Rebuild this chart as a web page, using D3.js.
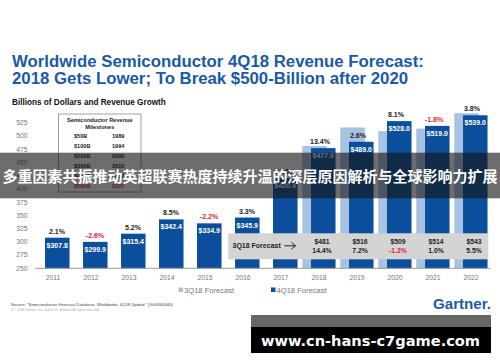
<!DOCTYPE html>
<html>
<head>
<meta charset="utf-8">
<script src="https://cdn.jsdelivr.net/npm/d3@7"></script>
<style>
  body { margin: 0; background: #fff; }
  svg { display: block; font-family: "Liberation Sans", Arial, sans-serif; }
</style>
</head>
<body>
<div id="chart"></div>
<script>
// chart data
const years = [2011, 2012, 2013, 2014, 2015, 2016, 2017, 2018, 2019, 2020, 2021, 2022];
const rev4Q18 = [307.8, 299.9, 315.4, 342.4, 334.9, 345.9, 420.4, 477.0, 489.0, 528.0, 519.0, 539.0];
const growth4Q18 = ["2.1%", "-2.6%", "5.2%", "8.5%", "-2.2%", "3.3%", "21.6%", "13.4%", "2.6%", "8.1%", "-1.8%", "3.8%"];
const years3Q18 = [2018, 2019, 2020, 2021, 2022];
const rev3Q18 = [481, 516, 509, 514, 543];
const growth3Q18 = ["14.4%", "7.2%", "-1.2%", "1.0%", "5.5%"];
const yTicks = [250, 275, 300, 325, 350, 375, 400, 425, 450, 475, 500, 525];
const milestones = [["$50B", "1989"], ["$100B", "1994"], ["$200B", "2000"], ["$300B", "2010"], ["$400B", "2017"], ["$500B", "2021"]];

const width = 500, height = 362;
const blue = "#0b4f9c", light = "#a8c3e2", red = "#e3222c";

const svg = d3.select("#chart").append("svg")
    .attr("width", width).attr("height", height);

const x = d3.scaleBand().domain(years).range([34, 490]);
const y = d3.scaleLinear().domain([250, 525]).range([268.3, 122.7]);
const bw = x.bandwidth();

// title
svg.append("text").attr("x", 12).attr("y", 66.5)
    .attr("font-size", 16.8).attr("font-weight", "bold").attr("fill", "#1b59a6")
    .text("Worldwide Semiconductor 4Q18 Revenue Forecast:");
svg.append("text").attr("x", 12).attr("y", 83.5)
    .attr("font-size", 16.8).attr("font-weight", "bold").attr("fill", "#1b59a6")
    .text("2018 Gets Lower; To Break $500-Billion after 2020");
svg.append("text").attr("x", 12).attr("y", 104.5)
    .attr("font-size", 8.2).attr("font-weight", "bold").attr("fill", "#111")
    .text("Billions of Dollars and Revenue Growth");

// y axis labels
svg.append("g").selectAll("text").data(yTicks).join("text")
    .attr("x", 27.5).attr("y", d => y(d) + 2.4)
    .attr("text-anchor", "end").attr("font-size", 6.8).attr("fill", "#777")
    .text(d => d);

// 3Q18 bars (behind)
const q3 = years3Q18.map((yr, i) => ({year: yr, v: rev3Q18[i], g: growth3Q18[i]}));
svg.append("g").selectAll("rect").data(q3).join("rect")
    .attr("x", d => x(d.year) + bw * 0.06)
    .attr("width", bw * 0.645)
    .attr("y", d => y(d.v))
    .attr("height", d => y(250) - y(d.v))
    .attr("fill", light);

// 4Q18 bars
const q4 = years.map((yr, i) => ({year: yr, v: rev4Q18[i], g: growth4Q18[i]}));
const dark = svg.append("g");
dark.selectAll("rect").data(q4).join("rect")
    .attr("x", d => x(d.year) + bw * 0.29)
    .attr("width", bw * 0.645)
    .attr("y", d => y(d.v))
    .attr("height", d => y(250) - y(d.v))
    .attr("fill", blue);

dark.selectAll(".val").data(q4).join("text")
    .attr("class", "val")
    .attr("x", d => x(d.year) + bw * 0.29 + bw * 0.3225)
    .attr("y", d => y(d.v) + 10)
    .attr("text-anchor", "middle").attr("font-size", 7).attr("font-weight", "bold")
    .attr("fill", "#fff")
    .text(d => "$" + d.v.toFixed(1));

dark.selectAll(".gr").data(q4).join("text")
    .attr("class", "gr")
    .attr("x", d => x(d.year) + bw / 2 + (d.year >= 2018 ? 1 : 4))
    .attr("y", d => y(d.v) - 4)
    .attr("text-anchor", "middle").attr("font-size", 7).attr("font-weight", "bold")
    .attr("fill", d => d.g.startsWith("-") ? red : "#222")
    .text(d => d.g);

// axis line
svg.append("line").attr("x1", 35).attr("x2", 490)
    .attr("y1", y(250)).attr("y2", y(250))
    .attr("stroke", "#999").attr("stroke-width", 1);

// year labels
svg.append("g").selectAll("text").data(years).join("text")
    .attr("x", d => x(d) + bw / 2).attr("y", 279.8)
    .attr("text-anchor", "middle").attr("font-size", 6.8).attr("fill", "#777")
    .text(d => d);

// 3Q18 forecast box
const fb = svg.append("g");
fb.append("rect").attr("x", 228.3).attr("y", 233.3).attr("width", 260).attr("height", 26)
    .attr("fill", "#d4d4d4");
fb.append("text").attr("x", 232.5).attr("y", 248.2)
    .attr("font-size", 7).attr("font-weight", "bold").attr("fill", "#222")
    .text("3Q18 Forecast");
// arrow
fb.append("path").attr("d", "M284.5,245.8H295.5M291.5,242.3L295.5,245.8L291.5,249.3")
    .attr("fill", "none").attr("stroke", "#222").attr("stroke-width", 1);
fb.selectAll(".v3").data(q3).join("text")
    .attr("class", "v3")
    .attr("x", d => x(d.year) + bw / 2 + 3).attr("y", 244)
    .attr("text-anchor", "middle").attr("font-size", 6.8).attr("font-weight", "bold")
    .attr("fill", "#222")
    .text(d => "$" + d.v);
fb.selectAll(".g3").data(q3).join("text")
    .attr("class", "g3")
    .attr("x", d => x(d.year) + bw / 2 + 3).attr("y", 252.5)
    .attr("text-anchor", "middle").attr("font-size", 6.8).attr("font-weight", "bold")
    .attr("fill", d => d.g.startsWith("-") ? red : "#222")
    .text(d => d.g);

// milestones box
const mb = svg.append("g");
mb.append("rect").attr("x", 58.5).attr("y", 114).attr("width", 82.5).attr("height", 78)
    .attr("fill", "#fff").attr("stroke", "#888").attr("stroke-width", 0.8);
mb.append("text").attr("x", 99.8).attr("y", 122.3).attr("text-anchor", "middle")
    .attr("font-size", 5.6).attr("font-weight", "bold").attr("fill", "#222")
    .text("Semiconductor Revenue");
mb.append("text").attr("x", 99.8).attr("y", 128.8).attr("text-anchor", "middle")
    .attr("font-size", 5.6).attr("font-weight", "bold").attr("fill", "#222")
    .text("Milestones");
mb.selectAll(".m1").data(milestones).join("text")
    .attr("class", "m1")
    .attr("x", 74).attr("y", (d, i) => 137.7 + i * 10)
    .attr("font-size", 5.6).attr("font-weight", "bold")
    .attr("fill", (d, i) => i === 5 ? red : "#222")
    .text(d => d[0]);
mb.selectAll(".m2").data(milestones).join("text")
    .attr("class", "m2")
    .attr("x", 112).attr("y", (d, i) => 137.7 + i * 10)
    .attr("font-size", 5.6).attr("font-weight", "bold")
    .attr("fill", (d, i) => i === 5 ? red : "#222")
    .text(d => d[1]);

// legend
const legend = [["3Q18 Forecast", light, 178.5], ["4Q18 Forecast", blue, 271]];
const lg = svg.append("g").selectAll("g").data(legend).join("g");
lg.append("rect").attr("x", d => d[2]).attr("y", 287.5).attr("width", 4.5).attr("height", 4.5)
    .attr("fill", d => d[1]);
lg.append("text").attr("x", d => d[2] + 5.5).attr("y", 292.6)
    .attr("font-size", 7.6).attr("fill", "#777")
    .text(d => d[0]);

// footer
svg.append("text").attr("x", 11).attr("y", 305.6)
    .attr("font-size", 4.3).attr("fill", "#444")
    .text("Source: \"Semiconductor Forecast Database, Worldwide, 4Q18 Update\" (G00364440)");
svg.append("text").attr("x", 11).attr("y", 310.6)
    .attr("font-size", 3.3).attr("fill", "#aaa")
    .text("3      \u00a9 2018 Gartner, Inc. and/or its affiliates. All rights reserved.");
svg.append("text").attr("x", 433).attr("y", 308.5)
    .attr("font-size", 14).attr("font-weight", "bold").attr("fill", "#1c5aa8")
    .attr("textLength", 58).attr("lengthAdjust", "spacingAndGlyphs")
    .text("Gartner.");

// overlay banner
svg.append("rect").attr("x", 0).attr("y", 152.7).attr("width", width).attr("height", 45.6)
    .attr("fill", "rgba(20,20,20,0.62)");
svg.append("text").attr("x", width / 2).attr("y", 181.5).attr("text-anchor", "middle")
    .attr("font-family", "'Noto Sans CJK SC', sans-serif")
    .attr("font-size", 15).attr("font-weight", "bold").attr("fill", "#fff")
    .text("多重因素共振推动英超联赛热度持续升温的深层原因解析与全球影响力扩展");

// watermark
svg.append("rect").attr("x", 251).attr("y", 315).attr("width", 240).attr("height", 12)
    .attr("fill", "#666");
svg.append("rect").attr("x", 251).attr("y", 327).attr("width", 240).attr("height", 26)
    .attr("fill", "#000");
svg.append("text").attr("x", 370.5).attr("y", 345.5).attr("text-anchor", "middle")
    .attr("font-family", "'DejaVu Sans', sans-serif")
    .attr("font-size", 14.6).attr("font-weight", "bold").attr("fill", "#fff")
    .text("www.cn-hans-c7game.com");
</script>
</body>
</html>
